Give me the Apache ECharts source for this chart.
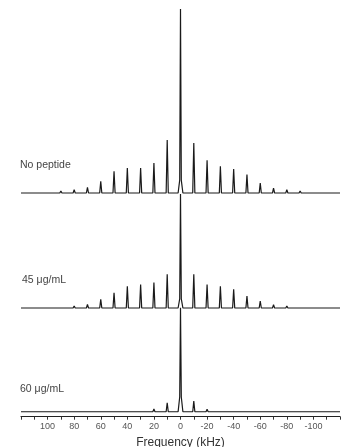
<!DOCTYPE html>
<html>
<head>
<meta charset="utf-8">
<script src="https://cdn.jsdelivr.net/npm/echarts@6/dist/echarts.min.js"></script>
<style>
  html, body { margin: 0; padding: 0; background: #fff; }
  #chart { width: 342px; height: 447px; }
</style>
</head>
<body>
<div id="chart"></div>
<script>
// sideband positions (kHz) and peak heights (No peptide centre = 100)
const sidebandPos = [90, 80, 70, 60, 50, 40, 30, 20, 10, 0, -10, -20, -30, -40, -50, -60, -70, -80, -90]
const noPeptide   = [1.1, 1.8, 3.1, 6.4, 11.8, 13.6, 13.6, 16.3, 28.8, 100, 27.2, 17.8, 14.5, 13, 10, 5.4, 2.7, 1.8, 1.1]
const ug45        = [0.5, 1.1, 2, 4.7, 8.3, 11.8, 12.7, 13.8, 18.3, 62, 18.3, 12.7, 11.8, 10.2, 6.5, 3.8, 1.8, 1.1, 0.5]
const ug60        = [0.4, 0.6, 0.4, 0.4, 0.4, 0.4, 0.5, 1.5, 4.9, 56.5, 5.8, 1.3, 0.5, 0.5, 0.6, 0.4, 0.4, 0.4, 0.3]
const centerHump  = [7, 5, 8]   // broad isotropic component under the central line
const sampleNames = ['No peptide', '45 μg/mL', '60 μg/mL']
const tickLabels  = [100, 80, 60, 40, 20, 0, -20, -40, -60, -80, -100]

// turn peak list into a stick-like line trace
function trace(heights, hump) {
  const pts = [[-120, 0]]
  const order = sidebandPos.map((p, i) => [p, heights[i]]).sort((a, b) => a[0] - b[0])
  order.forEach(([p, h]) => {
    if (p === 0) {
      pts.push([-1.8, 0], [-0.6, hump], [0, h], [0.6, hump], [1.8, 0])
    } else {
      pts.push([p - 0.8, 0], [p, h], [p + 0.8, 0])
    }
  })
  pts.push([120, 0])
  return pts
}

const chart = echarts.init(document.getElementById('chart'))
const traces = [trace(noPeptide, centerHump[0]), trace(ug45, centerHump[1]), trace(ug60, centerHump[2])]

const xBase = { type: 'value', min: -120, max: 120, interval: 10, inverse: true }

chart.setOption({
  animation: false,
  grid: [
    { left: 21, right: 2, top: 9, height: 184, outerBoundsMode: 'none' },
    { left: 21, right: 2, top: 124, height: 184, outerBoundsMode: 'none' },
    { left: 21, right: 2, top: 227.7, bottom: 30.3, outerBoundsMode: 'none' },
  ],
  xAxis: [
    { ...xBase, gridIndex: 0, show: false },
    { ...xBase, gridIndex: 1, show: false },
    {
      ...xBase, gridIndex: 2,
      name: 'Frequency (kHz)',
      nameLocation: 'middle',
      nameGap: 20,
      nameTextStyle: { fontFamily: 'Liberation Sans', fontSize: 12, color: '#333' },
      axisLine: { onZero: false, lineStyle: { color: '#222', width: 1.2 } },
      axisTick: { length: 3, lineStyle: { color: '#333' } },
      splitLine: { show: false },
      axisLabel: {
        fontFamily: 'Liberation Sans', fontSize: 9, color: '#555', margin: 5,
        formatter: v => tickLabels.includes(v) ? String(v) : '',
      },
    },
  ],
  yAxis: [
    { type: 'value', gridIndex: 0, min: 0, max: 100, show: false },
    { type: 'value', gridIndex: 1, min: 0, max: 100, show: false },
    { type: 'value', gridIndex: 2, min: -2.7, max: 100, show: false },
  ],
  series: traces.map((d, i) => ({
    type: 'line',
    name: sampleNames[i],
    xAxisIndex: i,
    yAxisIndex: i,
    data: d,
    symbol: 'none',
    clip: false,
    lineStyle: { color: '#1a1a1a', width: 1.2 },
  })),
  graphic: [
    { type: 'text', left: 20, top: 160, style: { text: sampleNames[0], fontFamily: 'Liberation Sans', fontSize: 10.5, fill: '#444' } },
    { type: 'text', left: 22, top: 275, style: { text: sampleNames[1], fontFamily: 'Liberation Sans', fontSize: 10.5, fill: '#444' } },
    { type: 'text', left: 20, top: 384, style: { text: sampleNames[2], fontFamily: 'Liberation Sans', fontSize: 10.5, fill: '#444' } },
  ],
})
</script>
</body>
</html>
